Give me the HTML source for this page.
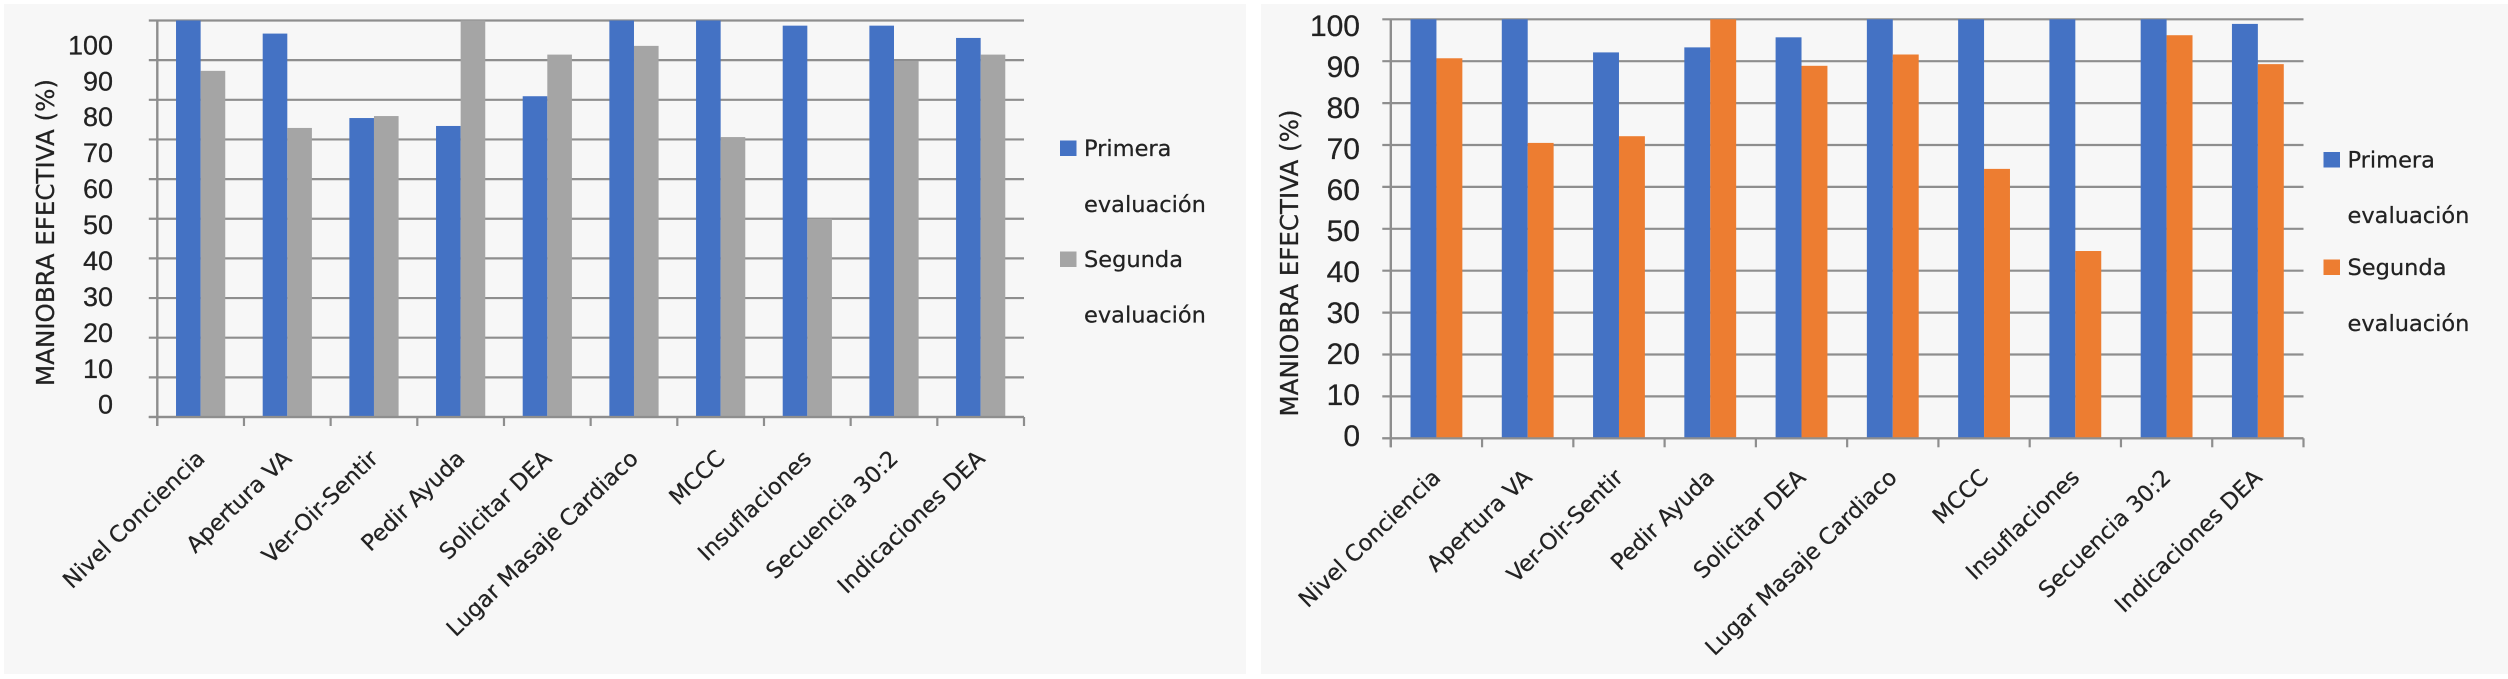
<!DOCTYPE html>
<html lang="es">
<head>
<meta charset="utf-8">
<title>Maniobra efectiva: primera y segunda evaluación</title>
<style>
html,body{margin:0;padding:0;background:#ffffff;}
body{width:2508px;height:679px;overflow:hidden;}
svg{display:block;}
text{font-family:"DejaVu Sans","Liberation Sans",sans-serif;fill:#222222;stroke:#222222;stroke-width:0.25px;}
text.tick{font-family:"Liberation Sans","DejaVu Sans",sans-serif;}
</style>
</head>
<body>
<svg id="figure" width="2508" height="679" viewBox="0 0 2508 679" xmlns="http://www.w3.org/2000/svg"></svg>
<script>
const categories = ["Nivel Conciencia","Apertura VA","Ver-Oir-Sentir","Pedir Ayuda","Solicitar DEA","Lugar Masaje Cardiaco","MCCC","Insuflaciones","Secuencia 30:2","Indicaciones DEA"];
const yTickLabels = [0,10,20,30,40,50,60,70,80,90,100];
const leftPrimera = [100,96.7,75.4,73.4,80.9,100,100,98.7,98.7,95.6];
const leftSegunda = [87.3,72.9,75.9,100,91.4,93.6,70.6,50,89.8,91.4];
const rightPrimera = [100,100,92.1,93.3,95.7,100,100,100,100,98.9];
const rightSegunda = [90.7,70.5,72.1,100,88.9,91.6,64.3,44.7,96.2,89.3];
const seriesNames = ["Primera","Segunda"];
const legendSecondLine = "evaluación";

const NS = "http://www.w3.org/2000/svg";
const root = document.getElementById("figure");

function el(parent, tag, attrs, txt) {
  const n = document.createElementNS(NS, tag);
  for (const k in attrs) n.setAttribute(k, attrs[k]);
  if (txt !== undefined) n.textContent = txt;
  parent.appendChild(n);
  return n;
}

function drawChart(cfg, primera, segunda) {
  const g = el(root, "g", {});
  
  

  const panel = el(g, "rect", {x:cfg.panelX, y:4, width:cfg.panelW, height:670, fill:"#f7f7f7"});
  
  

  const yScale = v => cfg.y0 - (v / 100) * (cfg.y0 - cfg.y100);
  const catW = (cfg.x1 - cfg.x0) / categories.length;
  const xScale = i => cfg.x0 + i * catW;
  const labelY = v => cfg.labelY0 - v * cfg.labelStep;

  yTickLabels.forEach(v => {
    const line = el(g, "line", {x1:cfg.x0 - 8.5, x2:cfg.x1, y1:yScale(v), y2:yScale(v), stroke:"#8e8e8e", "stroke-width":2.2});
    
    
    const t = el(g, "text", {"class":"tick", x:cfg.labelX, y:labelY(v) + cfg.tickSize * 0.36, "text-anchor":"end", "font-size":cfg.tickSize}, String(v));
    
    
  });

  const yAxis = el(g, "line", {x1:cfg.x0, x2:cfg.x0, y1:yScale(100), y2:cfg.y0 + 9, stroke:"#8e8e8e", "stroke-width":2.4});
  
  

  for (let i = 0; i <= categories.length; i++) {
    const tick = el(g, "line", {x1:xScale(i), x2:xScale(i), y1:cfg.y0, y2:cfg.y0 + 9, stroke:"#8e8e8e", "stroke-width":2.2});
    
    
  }

  const barW = catW * 0.284;
  categories.forEach((c, i) => {
    const start = xScale(i) + (catW - 2 * barW) / 2;
    const b1 = el(g, "rect", {x:start, y:yScale(primera[i]), width:barW, height:cfg.y0 - yScale(primera[i]), fill:"#4472c4"});
    
    
    const b2 = el(g, "rect", {x:start + barW, y:yScale(segunda[i]), width:barW, height:cfg.y0 - yScale(segunda[i]), fill:cfg.second});
    
    
    const lx = xScale(i) + catW / 2 + cfg.catLabelDx;
    const t = el(g, "text", {x:lx, y:cfg.catLabelY, "text-anchor":"end", "font-size":22.5, transform:"rotate(-44 " + lx + " " + cfg.catLabelY + ")"}, c);
    
    
  });

  const baseline = el(g, "line", {x1:cfg.x0 - 8.5, x2:cfg.x1, y1:cfg.y0, y2:cfg.y0, stroke:"#8e8e8e", "stroke-width":2.2});
  
  

  const title = el(g, "text", {x:0, y:0, "text-anchor":"middle", "font-size":25, textLength:307, lengthAdjust:"spacingAndGlyphs",
    transform:"translate(" + cfg.titleX + " " + cfg.titleY + ") rotate(-90)"}, "MANIOBRA EFECTIVA (%)");
  
  

  [0, 1].forEach(s => {
    const color = s === 0 ? "#4472c4" : cfg.second;
    const sw = el(g, "rect", {x:cfg.legendX, y:cfg.legendY[s * 2] - 15.5, width:16.5, height:15.5, fill:color});
    
    
    const t1 = el(g, "text", {x:cfg.legendX + 24, y:cfg.legendY[s * 2], "font-size":22.5}, seriesNames[s]);
    
    
    const t2 = el(g, "text", {x:cfg.legendX + 24, y:cfg.legendY[s * 2 + 1], "font-size":22.5}, legendSecondLine);
    
    
  });
}

drawChart({
  name:"left-chart", panelX:4, panelW:1242, x0:157.3, x1:1024, y0:417, y100:20.5,
  labelX:113, labelY0:404, labelStep:3.594, tickSize:27, second:"#a5a5a5",
  catLabelDx:5.5, catLabelY:460, titleX:54, titleY:232.5,
  legendX:1060, legendY:[156,212,267,322.5]
}, leftPrimera, leftSegunda);

drawChart({
  name:"right-chart", panelX:1261, panelW:1247, x0:1390.8, x1:2303.5, y0:438.3, y100:19.3,
  labelX:1360, labelY0:435, labelStep:4.10, tickSize:30, second:"#ed7d31",
  catLabelDx:5.5, catLabelY:479, titleX:1298, titleY:263,
  legendX:2323.5, legendY:[167.5,223,275,331]
}, rightPrimera, rightSegunda);
</script>
</body>
</html>
